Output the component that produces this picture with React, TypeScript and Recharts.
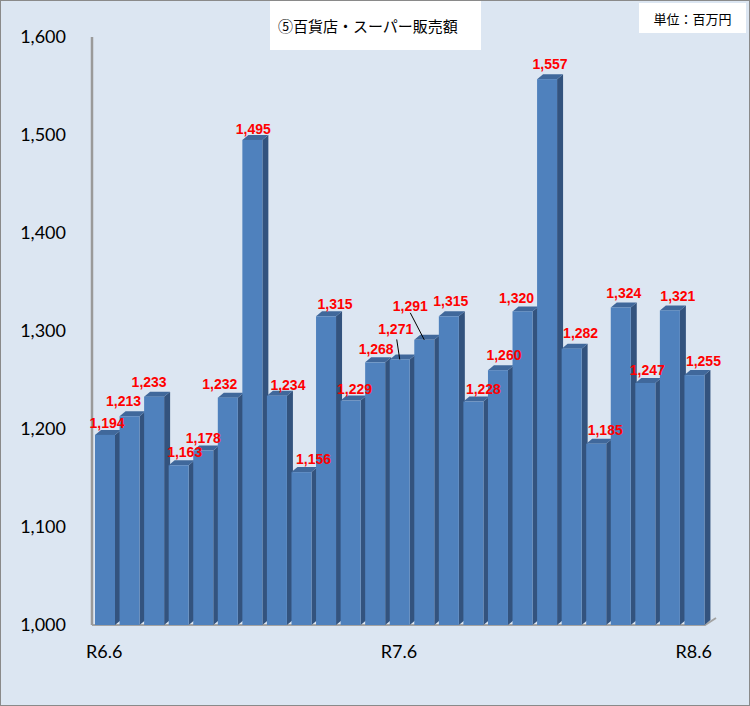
import React from 'react';
import { BarChart, Bar, XAxis, YAxis, LabelList, Customized } from 'recharts';

const MONTHS = ['R6.6','R6.7','R6.8','R6.9','R6.10','R6.11','R6.12','R7.1','R7.2','R7.3','R7.4','R7.5','R7.6','R7.7','R7.8','R7.9','R7.10','R7.11','R7.12','R8.1','R8.2','R8.3','R8.4','R8.5','R8.6'];
const SALES = [1194,1213,1233,1163,1178,1232,1495,1234,1156,1315,1229,1268,1271,1291,1315,1228,1260,1320,1557,1282,1185,1324,1247,1321,1255];
const TICK_LABELS = ['R6.6','R7.6','R8.6'];
const Y_TICKS = [1000,1100,1200,1300,1400,1500,1600];
const TITLE = '⑤百貨店・スーパー販売額';
const UNIT = '単位：百万円';

// label placement tweaks (layout, not data)
const LABEL_DX = [2,-6,-5,6,0,-8,1,11,12,9,4,1,-4,-14,2,10,6,-6,3,9,9,3,2,8,9];
const LABEL_DY = [12,15,15,13,13,14,11,11,13,12,12,13,30,34,15,13,15,13,15,16,14,14,13,14,14];

const W = 750;
const H = 706;
const M_TOP = 37;
const M_RIGHT = 42;
const Y_W = 92;
const X_H = 81;
const PLOT_BOTTOM = H - X_H;
const DEPTH_X = 6;
const DEPTH_Y = 5;

const data = MONTHS.map((m, i) => ({ month: m, sales: SALES[i] }));

const BarShape = (props: any) => {
  const { x, y, width, height } = props;
  if (width == null || height == null) return null;
  const dx = DEPTH_X;
  const dy = DEPTH_Y;
  return (
    <g>
      <polygon
        points={`${x + width},${y} ${x + width + dx},${y - dy} ${x + width + dx},${y + height - dy} ${x + width},${y + height}`}
        fill="#33537e"
      />
      <polygon
        points={`${x},${y} ${x + dx},${y - dy} ${x + width + dx},${y - dy} ${x + width},${y}`}
        fill="#40689b"
      />
      <rect x={x} y={y} width={width} height={height} fill="#4f81bd" />
    </g>
  );
};

const ValueLabel = (props: any) => {
  const { x, y, width, value, index } = props;
  const i = typeof index === 'number' ? index : 0;
  const bx = x + width / 2;
  const cx = bx + (LABEL_DX[i] ?? 0);
  const cy = y - (LABEL_DY[i] ?? 13);
  const txt = Number(value).toLocaleString('en-US');
  let leader: React.ReactNode = null;
  if (i === 12) {
    leader = <line x1={cx + 1} y1={cy + 10} x2={bx} y2={y} stroke="#000" strokeWidth={1} />;
  } else if (i === 13) {
    leader = <line x1={cx} y1={cy + 7} x2={bx} y2={y} stroke="#000" strokeWidth={1} />;
  }
  return (
    <g>
      {leader}
      <text
        x={cx}
        y={cy + 5}
        textAnchor="middle"
        fill="#ff0000"
        fontFamily="'Liberation Sans', Arial, sans-serif"
        fontWeight="bold"
        fontSize={14}
      >
        {txt}
      </text>
    </g>
  );
};

const YTick = (props: any) => {
  const { y, payload } = props;
  return (
    <text
      x={66}
      y={y}
      dy="0.36em"
      textAnchor="end"
      fill="#000"
      fontFamily="Lato, 'Open Sans', sans-serif"
      fontSize={18}
    >
      {Number(payload.value).toLocaleString('en-US')}
    </text>
  );
};

const XTick = (props: any) => {
  const { x, payload } = props;
  if (!TICK_LABELS.includes(payload.value)) return null;
  return (
    <text
      x={x - 1}
      y={PLOT_BOTTOM + 27}
      dy="0.36em"
      textAnchor="middle"
      fill="#000"
      fontFamily="Lato, 'Open Sans', sans-serif"
      fontSize={18}
    >
      {payload.value}
    </text>
  );
};

const Floor = () => {
  const left = Y_W;
  const right = W - M_RIGHT - 3;
  return (
    <g>
      <polyline
        points={`${left},${PLOT_BOTTOM} ${right},${PLOT_BOTTOM} ${right + 11},${PLOT_BOTTOM - 7}`}
        fill="none"
        stroke="#a3a3a3"
        strokeWidth={2}
      />
    </g>
  );
};

export default function App() {
  return (
    <div style={{ position: 'relative', width: W, height: H, background: '#dce6f2' }}>
      <style>{`body{margin:0}`}</style>
      <BarChart
        width={W}
        height={H}
        data={data}
        margin={{ top: M_TOP, right: M_RIGHT, bottom: 0, left: 0 }}
        barCategoryGap={0}
      >
        <XAxis
          dataKey="month"
          interval={0}
          height={X_H}
          axisLine={false}
          tickLine={false}
          tick={<XTick />}
          padding={{ left: 1, right: 1 }}
        />
        <YAxis
          domain={[1000, 1600]}
          ticks={Y_TICKS}
          width={Y_W}
          axisLine={{ stroke: '#9a9a9a', strokeWidth: 2.5 }}
          tickLine={false}
          tick={<YTick />}
          allowDataOverflow
        />
        <Customized component={Floor} />
        <Bar dataKey="sales" barSize={20} shape={<BarShape />} isAnimationActive={false}>
          <LabelList dataKey="sales" content={<ValueLabel />} />
        </Bar>
      </BarChart>
      <div
        style={{
          position: 'absolute',
          left: 270,
          top: 1,
          width: 211,
          height: 49,
          background: '#fff',
          display: 'flex',
          alignItems: 'center',
          boxSizing: 'border-box',
          paddingLeft: 8,
          fontFamily: "'Noto Sans CJK JP', sans-serif",
          fontSize: 15,
          color: '#000',
        }}
      >
        {TITLE}
      </div>
      <div
        style={{
          position: 'absolute',
          left: 639,
          top: 3,
          width: 107,
          height: 30,
          background: '#fff',
          display: 'flex',
          alignItems: 'center',
          justifyContent: 'center',
          fontFamily: "'Noto Sans CJK JP', sans-serif",
          fontSize: 13,
          color: '#000',
        }}
      >
        {UNIT}
      </div>
      <div
        style={{
          position: 'absolute',
          left: 0,
          top: 0,
          width: W,
          height: H,
          boxSizing: 'border-box',
          border: '1px solid #8a8a8a',
          pointerEvents: 'none',
        }}
      />
    </div>
  );
}
